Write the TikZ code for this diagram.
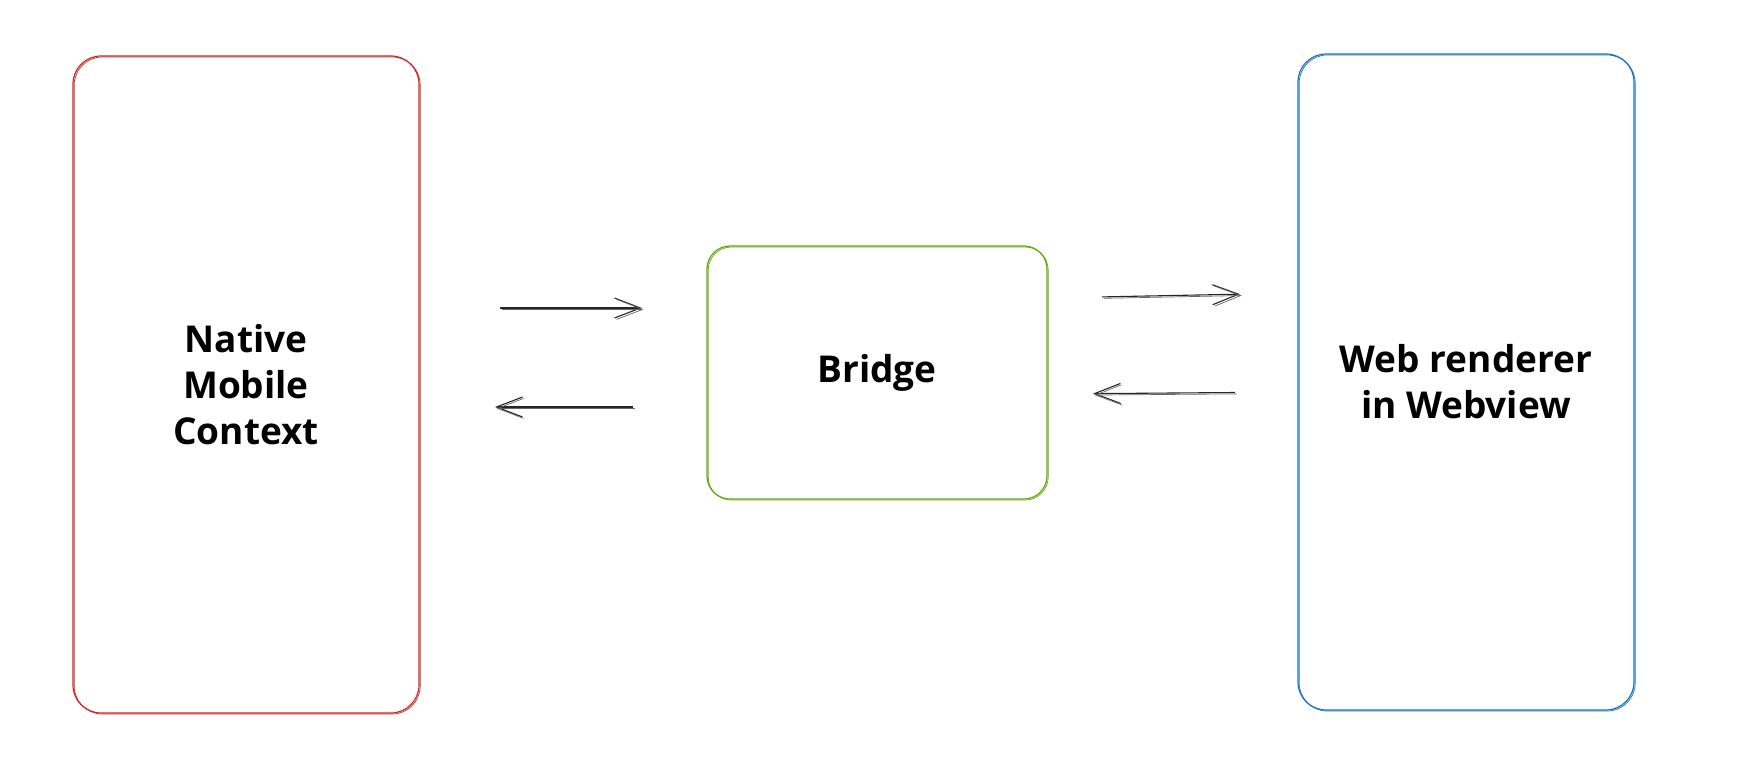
\documentclass[tikz,border=0pt]{standalone}
\usepackage{fontspec}
\setmainfont{Open Sans}
\usetikzlibrary{arrows.meta, positioning}
\definecolor{sketchred}{HTML}{C92A2A}
\definecolor{sketchgreen}{HTML}{66A80F}
\definecolor{sketchblue}{HTML}{1971C2}
\tikzset{panel/.style = {draw=#1, line width=0.6pt, rounded corners=14pt, inner sep=0pt, outer sep=0pt,
		align=center, font=\fontsize{18.5}{23}\selectfont\bfseries,
		postaction={draw=#1, line width=0.35pt, transform canvas={shift={(0.6pt,-0.5pt)}}}},
	flow/.style = {draw=black!85, line width=0.55pt, -{Straight Barb[length=13pt,width=10pt]},
		postaction={draw=black!60, line width=0.35pt, transform canvas={shift={(0.8pt,-0.7pt)}}}}}

\begin{document}
\begin{tikzpicture}[x=0.5pt, y=-0.5pt]
\useasboundingbox (0,0) rectangle (1752,756);
% the three contexts
\node[panel=sketchred, minimum width=173pt, minimum height=328.5pt] (native) at (246,384.5) {Native\\Mobile\\Context};
\node[panel=sketchgreen, minimum width=170pt, minimum height=126.5pt, rounded corners=11.5pt] (bridge) at (877,372.5) {Bridge};
\node[panel=sketchblue, minimum width=168pt, minimum height=328pt] (webview) at (1466,382) {Web renderer\\in Webview};
% messages
\draw[flow, shorten <=40.5pt, shorten >=32.5pt] ([yshift=38.25pt]native.east) -- ([yshift=32.25pt]bridge.west);
\draw[flow, shorten <=37pt, shorten >=38pt] ([yshift=-17.25pt]bridge.west) -- ([yshift=-11.25pt]native.east);
\draw[flow, shorten <=27.5pt, shorten >=29pt] ([yshift=37.25pt]bridge.east) -- ([yshift=44.5pt]webview.west);
\draw[flow, shorten <=31.5pt, shorten >=23pt] ([yshift=-5pt]webview.west) -- ([yshift=-10.75pt]bridge.east);
\end{tikzpicture}
\end{document}
